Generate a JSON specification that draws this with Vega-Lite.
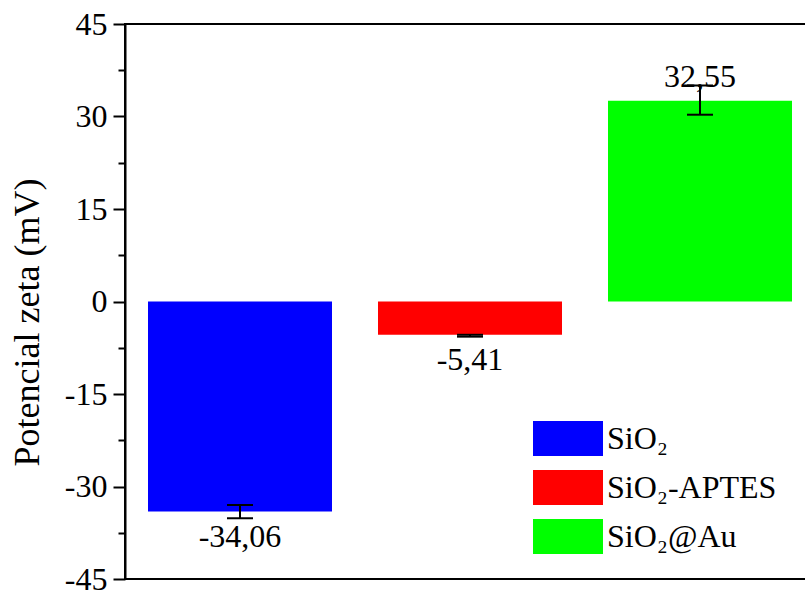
{
  "$schema": "https://vega.github.io/schema/vega-lite/v6.json",
  "autosize": "none",
  "padding": {"left": 125, "top": 24, "right": 0, "bottom": 13},
  "width": 690,
  "height": 555,
  "background": "white",
  "config": {
    "font": "Liberation Serif",
    "view": {"stroke": "black", "strokeWidth": 2},
    "text": {"font": "Liberation Serif"}
  },
  "data": {
    "values": [
      {"sample": "SiO₂", "value": -34.06, "lo": -35.15, "hi": -33.0, "label": "-34,06"},
      {"sample": "SiO₂-APTES", "value": -5.41, "lo": -5.7, "hi": -5.4, "label": "-5,41"},
      {"sample": "SiO₂@Au", "value": 32.55, "lo": 30.29, "hi": 35.03, "label": "32,55"}
    ]
  },
  "encoding": {
    "x": {
      "field": "sample",
      "type": "nominal",
      "sort": null,
      "scale": {"paddingInner": 0.2, "paddingOuter": 0.1},
      "axis": null
    }
  },
  "layer": [
    {
      "mark": {"type": "bar"},
      "encoding": {
        "y": {
          "field": "value",
          "type": "quantitative",
          "scale": {"domain": [-45, 45], "nice": false, "zero": false},
          "axis": {
            "title": "Potencial zeta (mV)",
            "titleFont": "Liberation Serif",
            "titleFontSize": 36,
            "titleFontWeight": "normal",
            "titleColor": "black",
            "titleAngle": -90,
            "titleBaseline": "alphabetic",
            "titleAlign": "center",
            "titleX": -87,
            "titleY": 298,
            "values": [-45, -37.5, -30, -22.5, -15, -7.5, 0, 7.5, 15, 22.5, 30, 37.5, 45],
            "labelExpr": "datum.value % 15 === 0 ? '' + datum.value : ''",
            "labelFont": "Liberation Serif",
            "labelFontSize": 32,
            "labelColor": "black",
            "labelPadding": 6,
            "labelBaseline": "middle",
            "labelFlush": false,
            "labelOverlap": false,
            "tickSize": {"condition": {"test": "datum.value % 15 === 0", "value": 12}, "value": 7},
            "tickWidth": 2,
            "tickColor": "black",
            "domainColor": "black",
            "domainWidth": 2,
            "grid": false
          }
        },
        "color": {
          "field": "sample",
          "type": "nominal",
          "sort": null,
          "scale": {"domain": ["SiO₂", "SiO₂-APTES", "SiO₂@Au"], "range": ["#0000FF", "#FF0000", "#00FF00"]},
          "legend": {
            "title": null,
            "orient": "none",
            "legendX": 425.5,
            "legendY": 397,
            "padding": 0,
            "symbolType": "M-2,-1H2V1H-2Z",
            "symbolSize": 1225,
            "symbolStrokeWidth": 0,
            "symbolOpacity": 1,
            "labelFont": "Liberation Serif",
            "labelFontSize": 32,
            "labelColor": "black",
            "labelOffset": 21.5,
            "labelLimit": 300,
            "rowPadding": 14
          }
        }
      }
    },
    {
      "mark": {"type": "rule", "color": "black", "strokeWidth": 2},
      "encoding": {"y": {"datum": 0}}
    },
    {
      "mark": {"type": "rule", "color": "black", "strokeWidth": 2},
      "encoding": {
        "y": {"field": "lo", "type": "quantitative"},
        "y2": {"field": "hi"}
      }
    },
    {
      "mark": {"type": "tick", "color": "black", "thickness": 2, "size": 26, "orient": "horizontal", "opacity": 1},
      "encoding": {"y": {"field": "lo", "type": "quantitative"}}
    },
    {
      "mark": {"type": "tick", "color": "black", "thickness": 2, "size": 26, "orient": "horizontal", "opacity": 1},
      "encoding": {"y": {"field": "hi", "type": "quantitative"}}
    },
    {
      "transform": [{"filter": "datum.value < 0"}],
      "mark": {"type": "text", "font": "Liberation Serif", "fontSize": 32, "color": "black", "baseline": "alphabetic", "align": "center", "dy": 35},
      "encoding": {
        "y": {"field": "value", "type": "quantitative"},
        "text": {"field": "label"}
      }
    },
    {
      "transform": [{"filter": "datum.value > 0"}],
      "mark": {"type": "text", "font": "Liberation Serif", "fontSize": 32, "color": "black", "baseline": "alphabetic", "align": "center", "dy": -14},
      "encoding": {
        "y": {"field": "value", "type": "quantitative"},
        "text": {"field": "label"}
      }
    }
  ]
}
